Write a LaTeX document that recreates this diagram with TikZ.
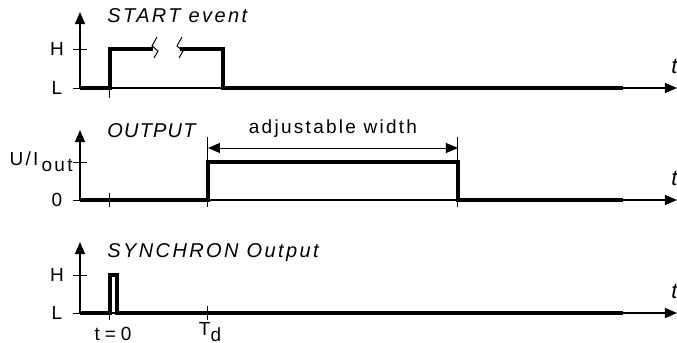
\documentclass[tikz,border=0pt]{standalone}
\usepackage{fontspec}
\setmainfont{Liberation Sans}[LetterSpace=12]
\usetikzlibrary{arrows.meta}

\tikzset{
    axis/.style={line width=0.6pt,-{Triangle[length=6pt,width=5pt]}},
    signal/.style={line width=2pt,line join=miter},
    tick/.style={line width=0.5pt},
    lbl/.style={font=\fontsize{9.5}{11}\selectfont,inner sep=0pt},
    ttl/.style={lbl,font=\fontsize{10}{12}\selectfont\itshape,anchor=west},
}

\begin{document}
\begin{tikzpicture}[x=0.5pt,y=-0.5pt]
    \useasboundingbox (0,0) rectangle (677,343);
    % Draw the three time axes
    \foreach \b/\h/\tip in {88/49/12, 200/162/130, 313/275/242} {
        \coordinate (o\b) at (80,\b);
        \draw[axis] (o\b) -- (677,\b);
        \draw[axis] (o\b) -- (80,\tip);
        \draw[tick] (73,\b) -- (o\b);
        \draw[tick] (73,\h) -- (87,\h);
        \node[lbl,anchor=south west,font=\fontsize{11}{12}\selectfont\itshape] (t\b) at (671,\b-14) {t};
    }
    % Level labels
    \node[lbl] (hi1) at (57,49) {H};
    \node[lbl] (lo1) at (57,88) {L};
    \node[lbl,anchor=east] (hi2) at (73,162) {U/I\,\raisebox{-3pt}{out}};
    \node[lbl] (lo2) at (57,200) {0};
    \node[lbl] (hi3) at (57,275) {H};
    \node[lbl] (lo3) at (57,313) {L};
    % Titles
    \node[ttl] (start) at (107,16) {START event};
    \node[ttl] (output) at (107,131) {\addfontfeature{LetterSpace=6}OUTPUT};
    \node[ttl] (synchron) at (107,253) {SYNCHRON Output};
    % Time markers
    \draw[tick] (110,88) -- (110,98);
    \draw[tick] (110,193) -- (110,207);
    \draw[tick] (208,137) -- (208,207);
    \draw[tick] (458,137) -- (458,207);
    \draw[tick] (110,306) -- (110,320);
    \draw[tick] (208,306) -- (208,320);
    \node[lbl] (tzero) at (113,334) {t\hspace{2.5pt}=\hspace{2.5pt}0};
    \node[lbl] (td) at (210,332) {T\raisebox{-3pt}{d}};
    % Draw the START event signal
    \draw[signal] (80,88) -- (110,88) -- (110,49) -- (153,49);
    \draw[signal] (180,49) -- (223,49) -- (223,88) -- (623,88);
    \draw[tick] (157,37) -- (152,46) -- (158,51) -- (154,58);
    \draw[tick] (182,37) -- (177,46) -- (183,51) -- (179,58);
    % Draw the OUTPUT signal
    \draw[signal] (80,200) -- (208,200) -- (208,162) -- (458,162) -- (458,200) -- (623,200);
    \draw[tick,{Triangle[length=6pt,width=5pt]}-{Triangle[length=6pt,width=5pt]}] (208,148) -- (458,148)
        node[lbl,midway,above=5pt] (width) {adjustable width};
    % Draw the SYNCHRON signal
    \draw[signal] (80,313) -- (110,313) -- (110,275) -- (117,275) -- (117,313) -- (623,313);
\end{tikzpicture}
\end{document}
